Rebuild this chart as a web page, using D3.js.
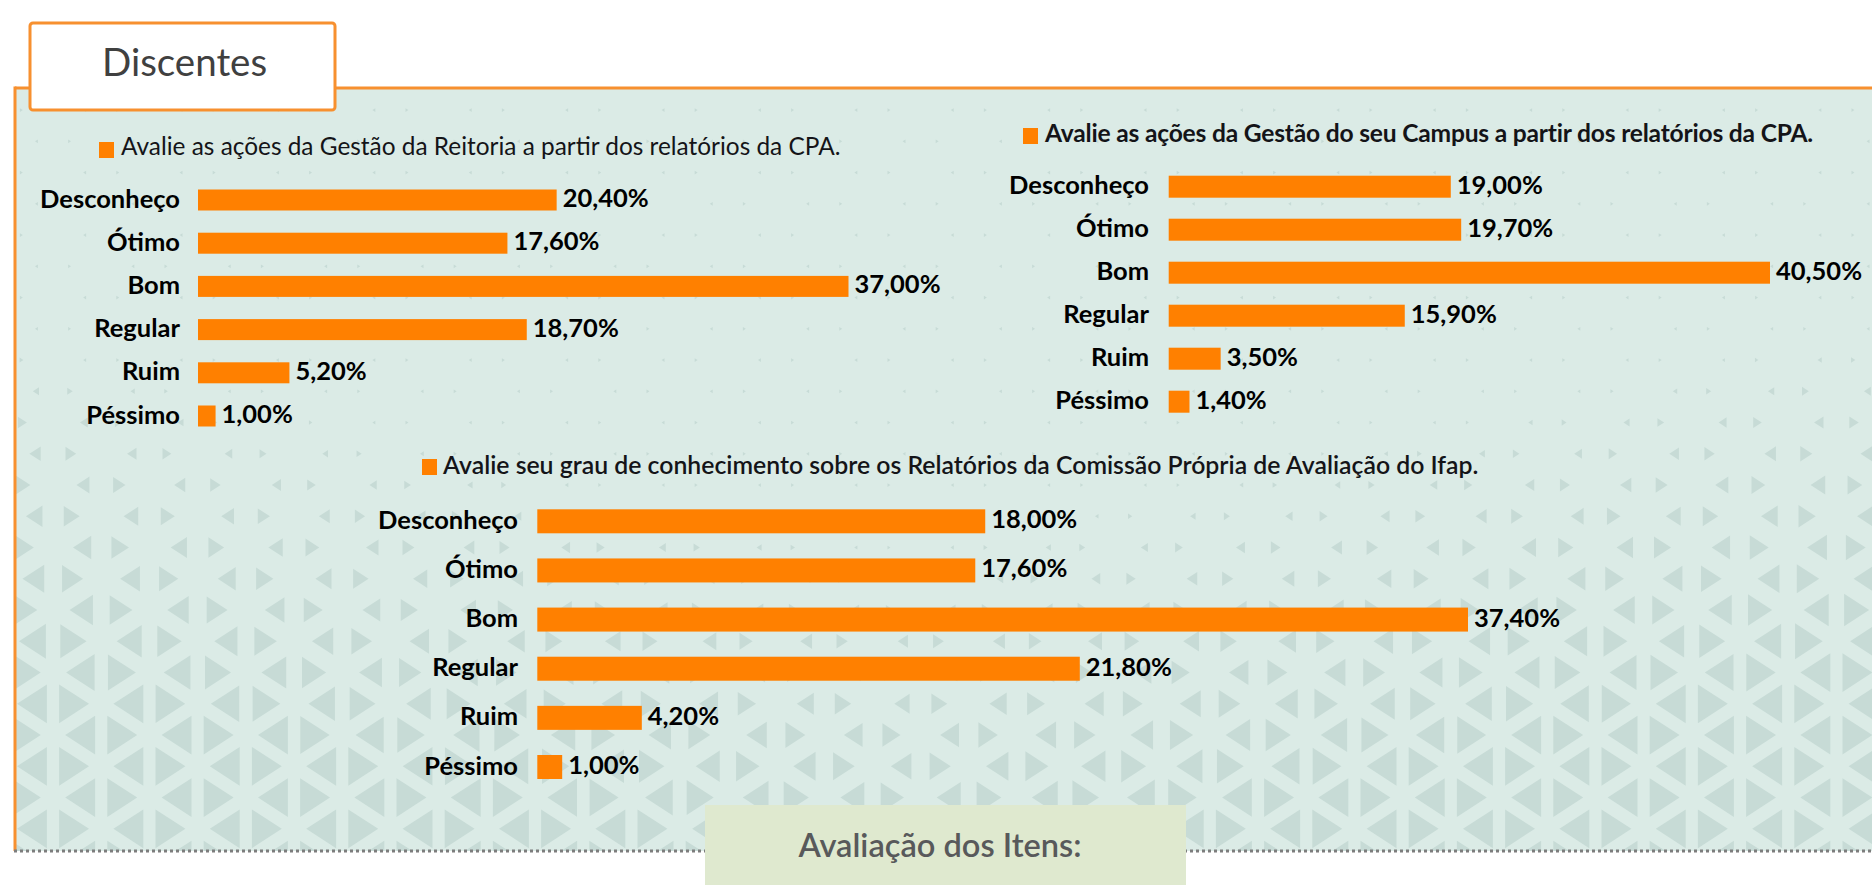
<!DOCTYPE html>
<html>
<head>
<meta charset="utf-8">
<script src="https://cdn.jsdelivr.net/npm/d3@7"></script>
<style>
  html, body { margin: 0; padding: 0; background: #ffffff; }
  svg { display: block; }
  text { font-family: Lato, "Open Sans", "DejaVu Sans", sans-serif; }
</style>
</head>
<body>
<svg id="chart" width="1872" height="885"></svg>
<script>
// ---- data ----
const categories = ["Desconheço", "Ótimo", "Bom", "Regular", "Ruim", "Péssimo"];
const reitoriaValues = [20.4, 17.6, 37.0, 18.7, 5.2, 1.0];
const campusValues = [19.0, 19.7, 40.5, 15.9, 3.5, 1.4];
const conhecimentoValues = [18.0, 17.6, 37.4, 21.8, 4.2, 1.0];
const chartTitles = [
  "Avalie as ações da Gestão da Reitoria a partir dos relatórios da CPA.",
  "Avalie as ações da Gestão do seu Campus a partir dos relatórios da CPA.",
  "Avalie seu grau de conhecimento sobre os Relatórios da Comissão Própria de Avaliação do Ifap."
];
const sectionTitle = "Discentes";
const footerTitle = "Avaliação dos Itens:";

// ---- styling ----
const W = 1872, H = 885;
const ORANGE_BAR = "#ff8000";
const ORANGE_LINE = "#f7902f";
const PANEL_BG = "#dbebe6";
const PATTERN_FILL = "#c7dbd6";
const TEXT_DARK = "#141418";

const svg = d3.select("#chart");

// pt-BR number format: 20,40%
const ptBR = d3.formatLocale({ decimal: ",", thousands: ".", grouping: [3], currency: ["R$", ""] });
const fmtPct = v => ptBR.format(".2f")(v) + "%";

// ---- panel background ----
const panel = { x: 15, y: 88, right: W, bottom: 851 };

svg.append("rect")
  .attr("x", panel.x).attr("y", panel.y)
  .attr("width", panel.right - panel.x).attr("height", panel.bottom - panel.y)
  .attr("fill", PANEL_BG);

// triangle lattice decoration, growing toward the lower edge and the sides
svg.append("clipPath").attr("id", "panelClip")
  .append("rect")
  .attr("x", panel.x).attr("y", panel.y)
  .attr("width", panel.right - panel.x).attr("height", panel.bottom - panel.y);

const patternG = svg.append("g").attr("clip-path", "url(#panelClip)");
const colStep = 48.2, rowStep = 62.5, colOffset = 4.8, rowOffset = 610;
const shapes = [];
function sizeAt(gx, gy) {
  const ty = (gy - panel.y) / (panel.bottom - panel.y);
  const tx = Math.min(1, Math.abs(gx - 900) / 900);
  const u = Math.max(0, Math.min(1, (ty + 0.277 * tx - 0.612) / 0.426));
  return 0.06 + 0.56 * u;
}
for (let n = -1; n * colStep + colOffset < W + colStep; n++) {
  const xl = colOffset + n * colStep, xr = xl + colStep;
  const shift = ((n % 2) + 2) % 2 ? rowStep / 2 : 0;
  for (let j = -15; j < 15; j++) {
    const yc = rowOffset + shift + j * rowStep;
    if (yc < panel.y - rowStep || yc > panel.bottom + rowStep) continue;
    // right-pointing: base on left line
    shapes.push([[xl, yc - rowStep / 2], [xl, yc + rowStep / 2], [xr, yc]]);
    // left-pointing: base on right line
    const yc2 = yc + rowStep / 2;
    shapes.push([[xr, yc2 - rowStep / 2], [xr, yc2 + rowStep / 2], [xl, yc2]]);
  }
}
patternG.selectAll("path.tri")
  .data(shapes)
  .join("path")
  .attr("class", "tri")
  .attr("fill", PATTERN_FILL)
  .attr("d", pts => {
    const gx = (pts[0][0] + pts[1][0] + pts[2][0]) / 3;
    const gy = (pts[0][1] + pts[1][1] + pts[2][1]) / 3;
    const k = sizeAt(gx, gy);
    return "M" + pts.map(p => [gx + (p[0] - gx) * k, gy + (p[1] - gy) * k].join(",")).join("L") + "Z";
  });

// panel borders
svg.append("line")
  .attr("x1", panel.x).attr("x2", panel.right)
  .attr("y1", panel.y).attr("y2", panel.y)
  .attr("stroke", ORANGE_LINE).attr("stroke-width", 3);
svg.append("line")
  .attr("x1", panel.x).attr("x2", panel.x)
  .attr("y1", panel.y - 1.5).attr("y2", panel.bottom)
  .attr("stroke", ORANGE_LINE).attr("stroke-width", 3);
svg.append("line")
  .attr("x1", panel.x - 1).attr("x2", panel.right)
  .attr("y1", panel.bottom).attr("y2", panel.bottom)
  .attr("stroke", "#7d7d7d").attr("stroke-width", 3)
  .attr("stroke-dasharray", "3,3");

// section tab
svg.append("rect")
  .attr("x", 30).attr("y", 23).attr("width", 305).attr("height", 87)
  .attr("rx", 3)
  .attr("fill", "#ffffff").attr("stroke", ORANGE_LINE).attr("stroke-width", 3);
svg.append("text")
  .attr("x", 102).attr("y", 76)
  .attr("font-size", 38.5).attr("fill", "#404040")
  .text(sectionTitle);

// ---- bar charts ----
const charts = [
  { title: chartTitles[0], values: reitoriaValues, weight: 400, titleSize: 24.4, titleSpacing: 0,
    legend: { x: 99, y: 142, textX: 121, baseline: 155 },
    x0: 198, xMaxEnd: 848.5, yFirst: 200, yLast: 416, barH: 21, labelRight: 180 },
  { title: chartTitles[1], values: campusValues, weight: 700, titleSize: 24.6, titleSpacing: -0.2,
    legend: { x: 1023, y: 128, textX: 1045, baseline: 142 },
    x0: 1168.7, xMaxEnd: 1770, yFirst: 186.7, yLast: 401.7, barH: 22, labelRight: 1149 },
  { title: chartTitles[2], values: conhecimentoValues, weight: 600, titleSize: 24.8, titleSpacing: 0,
    legend: { x: 422, y: 459, textX: 443, baseline: 474 },
    x0: 537.3, xMaxEnd: 1468, yFirst: 521.3, yLast: 767, barH: 24, labelRight: 518 }
];

charts.forEach((c, i) => {
  const g = svg.append("g").attr("class", "chart chart-" + i);
  const rows = categories.map((cat, k) => ({ cat, value: c.values[k] }));

  const x = d3.scaleLinear()
    .domain([0, d3.max(c.values)])
    .range([c.x0, c.xMaxEnd]);
  const y = d3.scalePoint()
    .domain(categories)
    .range([c.yFirst, c.yLast]);

  // legend marker + title
  g.append("rect")
    .attr("x", c.legend.x).attr("y", c.legend.y)
    .attr("width", 15).attr("height", 16)
    .attr("fill", ORANGE_BAR);
  g.append("text")
    .attr("x", c.legend.textX).attr("y", c.legend.baseline)
    .attr("font-size", c.titleSize).attr("font-weight", c.weight)
    .attr("letter-spacing", c.titleSpacing)
    .attr("fill", TEXT_DARK)
    .text(c.title);

  // category axis (labels only)
  const axis = d3.axisLeft(y).tickSize(0).tickPadding(0);
  const axG = g.append("g")
    .attr("transform", `translate(${c.labelRight},0)`)
    .call(axis);
  axG.select(".domain").remove();
  axG.selectAll("text")
    .attr("dy", null)
    .attr("y", 7)
    .attr("font-family", "Lato, 'Open Sans', sans-serif")
    .attr("font-size", 25.5).attr("font-weight", 700)
    .attr("fill", "#000");

  // bars
  g.selectAll("rect.bar")
    .data(rows)
    .join("rect")
    .attr("class", "bar")
    .attr("x", x(0))
    .attr("y", d => y(d.cat) - c.barH / 2)
    .attr("width", d => x(d.value) - x(0))
    .attr("height", c.barH)
    .attr("fill", ORANGE_BAR);

  // value labels
  g.selectAll("text.val")
    .data(rows)
    .join("text")
    .attr("class", "val")
    .attr("x", d => x(d.value) + 6)
    .attr("y", d => y(d.cat) + 7)
    .attr("font-size", 25.5).attr("font-weight", 700)
    .attr("fill", "#000")
    .text(d => fmtPct(d.value));
});

// footer label box
svg.append("rect")
  .attr("x", 705).attr("y", 805).attr("width", 481).attr("height", 80)
  .attr("fill", "#dfe9cf");
svg.append("text")
  .attr("x", 940).attr("y", 857)
  .attr("text-anchor", "middle")
  .attr("font-size", 32.6).attr("font-weight", 600)
  .attr("fill", "#58595b")
  .text(footerTitle);
</script>
</body>
</html>
